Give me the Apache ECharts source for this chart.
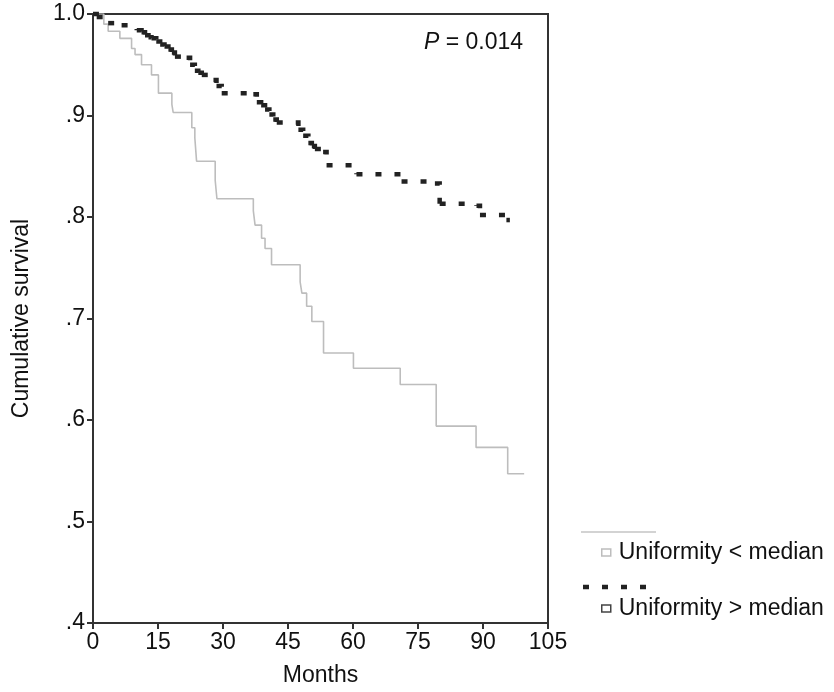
<!DOCTYPE html>
<html>
<head>
<meta charset="utf-8">
<title>Cumulative survival by uniformity</title>
<script src="https://cdn.jsdelivr.net/npm/echarts@6/dist/echarts.min.js"></script>
<style>
  html, body { margin: 0; padding: 0; background: #fff; }
  #chart { width: 834px; height: 692px; }
</style>
</head>
<body>
<div id="chart"></div>
<script>
// Kaplan-Meier steps (months, survival after each drop)
const lowMonths = [0, 2.5, 3.5, 6.2, 8.9, 9.7, 11.2, 13.5, 15.1, 18.2, 18.5, 22.8, 23.5, 23.9, 28.2, 28.6, 37, 37.4, 38.9, 39.7,
  41.2, 47.8, 48.2, 49.3, 50.5, 53.2, 60.1, 70.9, 79.2, 88.4, 95.7, 99.5];
const lowSurv = [1.0, 0.99, 0.983, 0.976, 0.966, 0.960, 0.950, 0.940, 0.922, 0.911, 0.903, 0.888, 0.878, 0.855, 0.836, 0.818, 0.806, 0.792, 0.779, 0.769,
  0.753, 0.736, 0.725, 0.712, 0.697, 0.666, 0.651, 0.635, 0.594, 0.573, 0.547, 0.547];

const highMonths = [0, 0.85, 3.5, 6.6, 10.1, 11.2, 12, 12.8, 13.5, 14.6, 15.5, 16.5, 17.4, 18.2, 18.9, 21.6, 22.4, 23.5, 24.3, 25.1,
  27.8, 28.5, 29.7, 37, 37.8, 38.8, 39.7, 40.7, 41.6, 42.4, 47.4, 48.5, 49.7, 50.5, 51.2, 53.1, 53.9, 60.8, 71.2, 78.9,
  80, 88.5, 89.3, 95.4, 96.2];
const highSurv = [1.0, 0.997, 0.991, 0.989, 0.984, 0.982, 0.979, 0.977, 0.976, 0.973, 0.970, 0.968, 0.965, 0.962, 0.958, 0.957, 0.950, 0.944, 0.942, 0.940,
  0.935, 0.929, 0.922, 0.921, 0.913, 0.910, 0.906, 0.901, 0.896, 0.893, 0.886, 0.880, 0.873, 0.870, 0.867, 0.864, 0.851, 0.842, 0.835, 0.833,
  0.813, 0.811, 0.802, 0.797, 0.797];

const seriesNames = ['Uniformity < median', 'Uniformity > median'];
const xTicks = [0, 105, 15];      // min, max, interval
const yTicks = [0.4, 1.0, 0.1];

const font = 'Liberation Sans, Arial, Helvetica, sans-serif';
const fs = 23;
const dotted = [6, 13];

function pairs(xs, ys) {
  return xs.map((x, i) => [x, ys[i]]);
}

// one item per step: [t, s, next t, next s], so the dot pattern restarts on every step
function steps(xs, ys) {
  const out = [];
  for (let i = 0; i < xs.length - 1; i++) out.push([xs[i], ys[i], xs[i + 1], ys[i + 1]]);
  return out;
}

let chart = echarts.init(document.getElementById('chart'));
chart.setOption({
  animation: false,
  textStyle: { fontFamily: font, color: '#111' },
  title: {
    left: 419,
    top: 26,
    text: '{i|P} = 0.014',
    textStyle: {
      fontSize: fs, fontWeight: 'normal', color: '#111', fontFamily: font,
      rich: { i: { fontStyle: 'italic', fontSize: fs, fontFamily: font, color: '#111' } }
    }
  },
  grid: {
    left: 93, right: 286, top: 14, bottom: 65,
    show: true, borderColor: '#333', borderWidth: 2
  },
  legend: {
    orient: 'vertical',
    left: 601,
    top: 541,
    padding: 0,
    itemGap: 33,
    icon: 'rect',
    itemWidth: 9,
    itemHeight: 7,
    selectedMode: false,
    textStyle: { fontSize: fs, color: '#111', fontFamily: font, padding: [0, 0, 0, 3] },
    data: [
      { name: seriesNames[0], itemStyle: { color: '#fff', borderColor: '#bdbdbd', borderWidth: 1.5 } },
      { name: seriesNames[1], itemStyle: { color: '#fff', borderColor: '#444', borderWidth: 1.5 } }
    ]
  },
  graphic: [
    // line samples above each legend entry
    { type: 'line', shape: { x1: 581, y1: 532, x2: 656, y2: 532 }, style: { stroke: '#c4c4c4', lineWidth: 1.5 } },
    { type: 'line', shape: { x1: 583, y1: 587, x2: 650, y2: 587 }, style: { stroke: '#222', lineWidth: 4.5, lineDash: dotted } }
  ],
  xAxis: {
    type: 'value',
    min: xTicks[0], max: xTicks[1], interval: xTicks[2],
    name: 'Months',
    nameLocation: 'middle',
    nameGap: 41,
    nameTextStyle: { fontSize: fs, color: '#111', fontFamily: font },
    splitLine: { show: false },
    axisLine: { lineStyle: { color: '#333', width: 2 } },
    axisTick: { length: 6, lineStyle: { color: '#333', width: 2 } },
    axisLabel: { fontSize: fs, color: '#111', margin: 8, fontFamily: font }
  },
  yAxis: {
    type: 'value',
    min: yTicks[0], max: yTicks[1], interval: yTicks[2],
    name: 'Cumulative survival',
    nameLocation: 'middle',
    nameGap: 60,
    nameTextStyle: { fontSize: fs, color: '#111', fontFamily: font },
    splitLine: { show: false },
    axisLine: { lineStyle: { color: '#333', width: 2 } },
    axisTick: { length: 6, lineStyle: { color: '#333', width: 2 } },
    axisLabel: {
      fontSize: fs, color: '#111', margin: 8, fontFamily: font,
      formatter: v => (Math.abs(v - 1) < 1e-9 ? '1.0' : v.toFixed(1).replace(/^0/, ''))
    }
  },
  series: [
    {
      name: seriesNames[0],
      type: 'line',
      step: 'end',
      showSymbol: false,
      symbol: 'none',
      data: pairs(lowMonths, lowSurv),
      lineStyle: { color: '#bdbdbd', width: 1.6 },
      itemStyle: { color: '#bdbdbd' },
      z: 2
    },
    {
      name: seriesNames[1],
      type: 'custom',
      data: steps(highMonths, highSurv),
      encode: { x: [0, 2], y: [1, 3] },
      itemStyle: { color: '#222' },
      renderItem: function (params, api) {
        const a = api.coord([api.value(0), api.value(1)]);
        const b = api.coord([api.value(2), api.value(1)]);
        const c = api.coord([api.value(2), api.value(3)]);
        return {
          type: 'polyline',
          shape: { points: [a, b, c] },
          style: { stroke: '#222', fill: 'none', lineWidth: 4.5, lineDash: dotted, lineCap: 'butt' }
        };
      },
      z: 3
    }
  ]
});
</script>
</body>
</html>
